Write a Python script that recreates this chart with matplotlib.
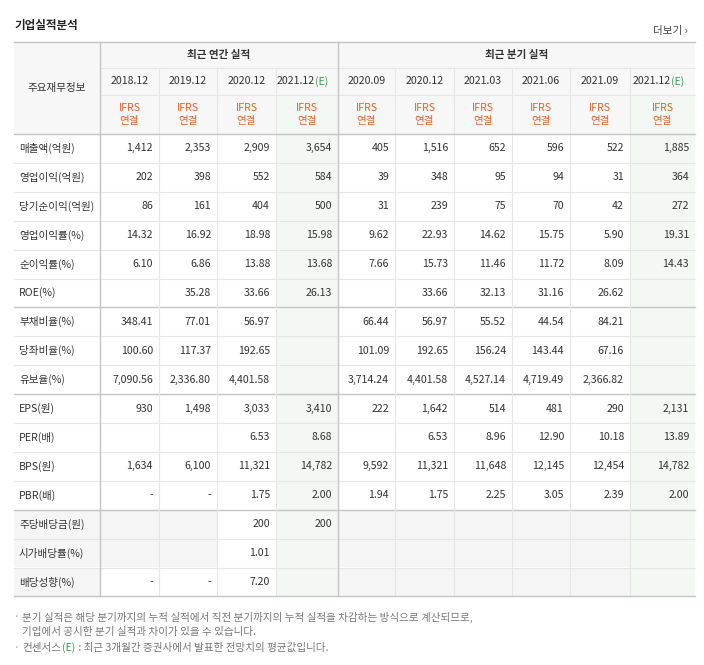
import matplotlib
matplotlib.use("Agg")
import matplotlib.pyplot as plt
from matplotlib.patches import Rectangle

FONT = "Noto Sans CJK KR"
plt.rcParams["font.family"] = FONT

title = "기업실적분석"
group_labels = ["최근 연간 실적", "최근 분기 실적"]
periods = ["2018.12", "2019.12", "2020.12", "2021.12", "2020.09", "2020.12",
           "2021.03", "2021.06", "2021.09", "2021.12"]
estimate = [False, False, False, True, False, False, False, False, False, True]
row_labels = ["매출액(억원)", "영업이익(억원)", "당기순이익(억원)", "영업이익률(%)", "순이익률(%)",
              "ROE(%)", "부채비율(%)", "당좌비율(%)", "유보율(%)", "EPS(원)", "PER(배)",
              "BPS(원)", "PBR(배)", "주당배당금(원)", "시가배당률(%)", "배당성향(%)"]
values = [
    ["1,412", "2,353", "2,909", "3,654", "405", "1,516", "652", "596", "522", "1,885"],
    ["202", "398", "552", "584", "39", "348", "95", "94", "31", "364"],
    ["86", "161", "404", "500", "31", "239", "75", "70", "42", "272"],
    ["14.32", "16.92", "18.98", "15.98", "9.62", "22.93", "14.62", "15.75", "5.90", "19.31"],
    ["6.10", "6.86", "13.88", "13.68", "7.66", "15.73", "11.46", "11.72", "8.09", "14.43"],
    ["", "35.28", "33.66", "26.13", "", "33.66", "32.13", "31.16", "26.62", ""],
    ["348.41", "77.01", "56.97", "", "66.44", "56.97", "55.52", "44.54", "84.21", ""],
    ["100.60", "117.37", "192.65", "", "101.09", "192.65", "156.24", "143.44", "67.16", ""],
    ["7,090.56", "2,336.80", "4,401.58", "", "3,714.24", "4,401.58", "4,527.14", "4,719.49", "2,366.82", ""],
    ["930", "1,498", "3,033", "3,410", "222", "1,642", "514", "481", "290", "2,131"],
    ["", "", "6.53", "8.68", "", "6.53", "8.96", "12.90", "10.18", "13.89"],
    ["1,634", "6,100", "11,321", "14,782", "9,592", "11,321", "11,648", "12,145", "12,454", "14,782"],
    ["-", "-", "1.75", "2.00", "1.94", "1.75", "2.25", "3.05", "2.39", "2.00"],
    ["", "", "200", "200", "", "", "", "", "", ""],
    ["", "", "1.01", "", "", "", "", "", "", ""],
    ["-", "-", "7.20", "", "", "", "", "", "", ""],
]
footnotes = ["분기 실적은 해당 분기까지의 누적 실적에서 직전 분기까지의 누적 실적을 차감하는 방식으로 계산되므로,",
             "기업에서 공시한 분기 실적과 차이가 있을 수 있습니다.",
             "컨센서스(E) : 최근 3개월간 증권사에서 발표한 전망치의 평균값입니다."]

W, H = 704, 665
fig = plt.figure(figsize=(W / 100, H / 100), dpi=100)
ax = fig.add_axes([0, 0, 1, 1])
ax.set_xlim(0, W); ax.set_ylim(H, 0); ax.axis("off")

col_x = [100, 159, 217, 276, 338, 395, 454, 512, 570, 630, 695]
left, right = 14, 695
top, y_grp, y_date, y_hdr = 42, 68, 95, 134
rh = 28.9
n = len(row_labels)
bottom = y_hdr + rh * n
txt = "#333333"; grid = "#e6e6e6"; dark = "#c4c4c4"
hdr_bg = "#f7f7f7"; est_bg = "#f3f8f4"; empty_bg = "#f5f5f5"
green = "#3b9a54"; orange = "#e0622a"
fs = 7.6

ax.text(left, 26, title, fontsize=8.3, fontweight="bold", color="#222", va="center")
ax.text(688, 31, "더보기 ›", fontsize=7.6, color="#444", va="center", ha="right")

ax.add_patch(Rectangle((left, top), right - left, y_hdr - top, color=hdr_bg, lw=0))
for j, e in enumerate(estimate):
    if e:
        ax.add_patch(Rectangle((col_x[j], y_date), col_x[j + 1] - col_x[j], bottom - y_date, color=est_bg, lw=0))
for i in range(13, 16):
    y0 = y_hdr + rh * i
    ax.add_patch(Rectangle((left, y0), col_x[0] - left, rh, color=empty_bg, lw=0))
    for j in range(10):
        if values[i][j] == "" and not estimate[j]:
            ax.add_patch(Rectangle((col_x[j], y0), col_x[j + 1] - col_x[j], rh, color=empty_bg, lw=0))

ax.plot([col_x[0], right], [y_grp, y_grp], color=grid, lw=0.8)
ax.plot([col_x[0], right], [y_date, y_date], color=grid, lw=0.8)
for i in range(1, n):
    y = y_hdr + rh * i
    strong = i in (6, 9, 13)
    ax.plot([left, right], [y, y], color=dark if strong else grid, lw=1.0 if strong else 0.8)
for k, x in enumerate(col_x[:-1]):
    strong = k in (0, 4)
    ys = top if strong else y_grp
    ax.plot([x, x], [ys, bottom], color=dark if strong else grid, lw=1.0 if strong else 0.8)
for y in (top, y_hdr, bottom):
    ax.plot([left, right], [y, y], color=dark, lw=1.0)

ax.text((left + col_x[0]) / 2, (top + y_hdr) / 2, "주요재무정보", fontsize=fs, color=txt, ha="center", va="center")
ax.text((col_x[0] + col_x[4]) / 2, (top + y_grp) / 2, group_labels[0], fontsize=fs, color=txt, ha="center", va="center", fontweight="bold")
ax.text((col_x[4] + col_x[10]) / 2, (top + y_grp) / 2, group_labels[1], fontsize=fs, color=txt, ha="center", va="center", fontweight="bold")
for j, p in enumerate(periods):
    cx = (col_x[j] + col_x[j + 1]) / 2
    cy = (y_grp + y_date) / 2
    if estimate[j]:
        ax.text(cx + 8, cy, p, fontsize=fs, color=txt, ha="right", va="center")
        ax.text(cx + 8, cy, "(E)", fontsize=fs, color=green, ha="left", va="center")
    else:
        ax.text(cx, cy, p, fontsize=fs, color=txt, ha="center", va="center")
    ax.text(cx, 108, "IFRS", fontsize=fs, color=orange, ha="center", va="center")
    ax.text(cx, 121, "연결", fontsize=fs, color=orange, ha="center", va="center")

for i, lab in enumerate(row_labels):
    cy = y_hdr + rh * (i + 0.5)
    ax.text(left + 5, cy, lab, fontsize=fs, color=txt, ha="left", va="center")
    for j in range(10):
        v = values[i][j]
        if v:
            ax.text(col_x[j + 1] - 6, cy, v, fontsize=fs, color=txt, ha="right", va="center")

ax.text(left, 617, "·", fontsize=fs, color="#999", va="center")
ax.text(left + 8, 617, footnotes[0], fontsize=fs, color="#777", va="center")
ax.text(left + 8, 632, footnotes[1], fontsize=fs, color="#777", va="center")
ax.text(left, 648, "·", fontsize=fs, color="#999", va="center")
parts = [("컨센서스", "#777"), ("(E)", green), (footnotes[2].split("(E)")[1], "#777")]
renderer = fig.canvas.get_renderer()
x = left + 8
inv = ax.transData.inverted()
for s, c in parts:
    t = ax.text(x, 648, s, fontsize=fs, color=c, va="center")
    bb = t.get_window_extent(renderer=renderer)
    x0 = inv.transform((bb.x0, bb.y0))[0]
    x1 = inv.transform((bb.x1, bb.y0))[0]
    x += (x1 - x0) + 1

fig.savefig("out.png", dpi=100, facecolor="white")
